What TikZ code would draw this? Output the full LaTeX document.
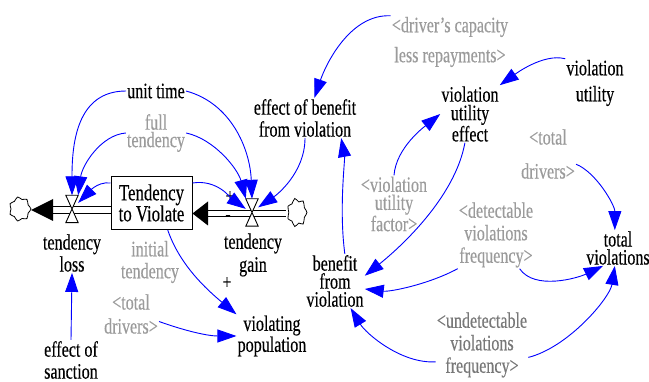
\documentclass[tikz,border=0pt]{standalone}
\usepackage{fontspec}
\setmainfont{Liberation Serif}[FakeStretch=0.73, FakeBold=0.35]
\usetikzlibrary{arrows.meta}
\definecolor{linkblue}{RGB}{0,0,255}
\definecolor{ghost}{RGB}{155,155,155}
\definecolor{ghostdark}{RGB}{120,120,120}
\begin{document}
\begin{tikzpicture}[x=1pt,y=-1pt,
  lbl/.style={align=center, inner sep=1pt, font=\fontsize{22}{#1}\selectfont},
  lbl/.default=21,
  glbl/.style={lbl=#1, text=ghost},
  glbl/.default=21,
  link/.style={draw=linkblue, line width=0.9pt, -{Triangle[length=19pt,width=13pt]}},
  stockbox/.style={draw, line width=1pt, minimum width=81pt, minimum height=53pt, inner sep=0pt, align=center, font=\fontsize{23}{21}\selectfont},
  valve/.style={minimum width=12pt, minimum height=27pt, inner sep=0pt},
  valveshape/.style={draw, fill=white, line width=0.9pt},
  pipe/.style={double, double distance=5.5pt, line width=1pt},
  sinkspot/.style={minimum width=22pt, minimum height=26pt, inner sep=0pt},
  blob/.style={draw, line width=0.8pt, fill=white},
  sign/.style={inner sep=0pt, font=\fontsize{21}{21}\selectfont}
]
\useasboundingbox (0,0) rectangle (649,382);

% stock, valves, clouds
\node[stockbox] (stock) at (151.5,203) {Tendency\\to Violate};
\node[valve] (vL) at (72,209) {};
\node[valve] (vG) at (252,212.5) {};
\node[sinkspot] (cL) at (20,209) {};
\node[sinkspot] (cR) at (297,212.5) {};
\coordinate (baseL) at (53,210);
\coordinate (baseG) at (208,213.5);

% clouds
\draw[blob, shift={(cL.center)}] plot[smooth cycle, tension=0.7] coordinates {
  (11,0) (8.1,4.2) (6.9,9.6) (2,9.5) (-2.4,12) (-5.6,7.6) (-9.9,5.3) (-9,0)
  (-9.9,-5.3) (-5.6,-7.6) (-2.4,-12) (2,-9.5) (6.9,-9.6) (8.1,-4.2)};
\draw[blob, shift={(cR.center)}] plot[smooth cycle, tension=0.7] coordinates {
  (10,0) (7.4,4.8) (6.2,11.5) (1.8,10.6) (-2.2,14) (-5.1,8.6) (-9,6.2) (-8.2,0)
  (-9,-6.2) (-5.1,-8.6) (-2.2,-14) (1.8,-10.6) (6.2,-11.5) (7.4,-4.8)};

% pipes
\draw[pipe] (stock.west |- baseL) -- (baseL);
\fill ([yshift=11pt]baseL) -- ([yshift=-11pt]baseL) -- (cL.east |- baseL) -- cycle;
\draw[pipe] (cR.west |- baseG) -- (baseG);
\fill ([yshift=12pt]baseG) -- ([yshift=-12pt]baseG) -- (stock.east |- baseG) -- cycle;
\draw[valveshape] (vL.north west) -- (vL.north east) -- (vL.south west) -- (vL.south east) -- cycle;
\draw[valveshape] (vG.north west) -- (vG.north east) -- (vG.south west) -- (vG.south east) -- cycle;

% labels
\node[lbl] (unit) at (156,91) {unit time};
\node[glbl=17.5] (full) at (156,133) {full\\tendency};
\node[lbl=22] (tloss) at (72,253) {tendency\\loss};
\node[lbl=23] (tgain) at (253,255) {tendency\\gain};
\node[glbl=22] (init) at (150,262) {initial\\tendency};
\node[glbl=24] (tdl) at (131,314) {<total\\drivers>};
\node[lbl=20] (vp) at (272,336) {violating\\population};
\node[lbl=22] (sanc) at (71,360) {effect of\\sanction};
\node[lbl=22] (effb) at (305,118) {effect of benefit\\from violation};
\node[glbl=30] (dcap) at (450,42) {<driver's capacity\\less repayments>};
\node[lbl=26] (vu) at (595,83) {violation\\utility};
\node[lbl=18.5] (vue) at (470,114) {violation\\utility\\effect};
\node[glbl=34] (tdr) at (548,154) {<total\\drivers>};
\node[glbl=18] (vuf) at (394,204) {<violation\\utility\\factor>};
\node[glbl=22.5] (det) at (496,235) {<detectable\\violations\\frequency>};
\node[lbl=18] (tv) at (618,248) {total\\violations};
\node[lbl=18] (ben) at (335,281) {benefit\\from\\violation};
\node[lbl=22.5, text=ghostdark] (und) at (482,345) {<undetectable\\violations\\frequency>};

% polarity signs
\node[sign] (p1) at (230,197) {+};
\node[sign] (m1) at (228,218) {-};
\node[sign] (p2) at (227,283) {+};

% links
\draw[link] (unit.west) .. controls +(-50,0) and +(0,-50) .. (vL.north);
\draw[link] (full.west) .. controls +(-25,2) and +(4,-30) .. (vL.north east);
\draw[link] (stock.154) .. controls +(-14,-2) and +(8,-8) .. (vL.45);
\draw[link] (unit.east) .. controls +(45,12) and +(-2,-50) .. (vG.north);
\draw[link] (full.east) .. controls +(28,6) and +(-8,-30) .. (vG.north west);
\draw[link] (stock.26) .. controls +(25,-4) and +(-14,-10) .. (vG.150);
\draw[link] (effb.south) .. controls +(0,35) and +(18,-12) .. (vG.40);
\draw[link] (stock.-59) .. controls +(12,35) and +(-30,-25) .. (vp.north west);
\draw[link] (tdl.-15) .. controls +(28,10) and +(-28,0) .. (vp.west);
\draw[link] (sanc.north) -- (tloss.south);
\draw[link] (dcap.north west) .. controls +(-40,-2) and +(12,-35) .. (effb.65);
\draw[link] (vu.north west) .. controls +(-22,-6) and +(14,-10) .. (vue.north east);
\draw[link] (ben.70) .. controls +(-6,-45) and +(4,22) .. (effb.-29);
\draw[link] (vuf.north) .. controls +(2,-28) and +(-15,12) .. (vue.west);
\draw[link] (vue.-100) .. controls +(-10,55) and +(35,-28) .. (ben.10);
\draw[link] (det.south west) .. controls +(-30,16) and +(25,3) .. (ben.-15);
\draw[link] (det.-55) .. controls +(15,22) and +(-25,12) .. (tv.-130);
\draw[link] (tdr.-20) .. controls +(20,8) and +(0,-25) .. (tv.100);
\draw[link] (und.200) .. controls +(-35,2) and +(15,25) .. (ben.-60);
\draw[link] (und.-15) .. controls +(40,-10) and +(-5,32) .. (tv.-100);
\end{tikzpicture}
\end{document}
